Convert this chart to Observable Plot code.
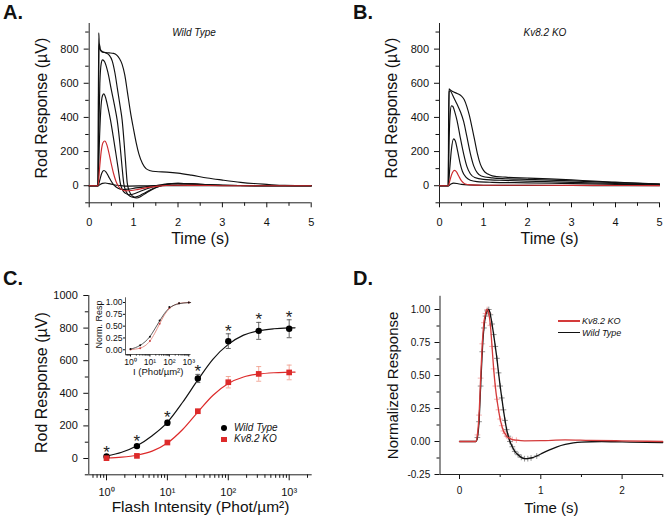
<!DOCTYPE html>
<html><head><meta charset="utf-8">
<script src="https://cdn.jsdelivr.net/npm/d3@7"></script>
<script src="https://cdn.jsdelivr.net/npm/@observablehq/plot@0.6"></script>
<style>
body{margin:0;background:#fff;}
#wrap{position:relative;width:666px;height:521px;overflow:hidden;font-family:"Liberation Sans",Arial,sans-serif;color:#111;}
.pn{position:absolute;}
.pl{position:absolute;font-weight:bold;font-size:20px;line-height:20px;}
.it{position:absolute;font-style:italic;font-size:10px;line-height:12px;white-space:nowrap;}
</style></head>
<body><div id="wrap">
<div class="pn" id="pA" style="left:0;top:0"></div>
<div class="pn" id="pB" style="left:333px;top:0"></div>
<div class="pn" id="pC" style="left:0;top:260px"></div>
<div class="pn" id="pD" style="left:333px;top:260px"></div>
<div class="pn" id="pI" style="left:60px;top:280px"></div>
<div class="pl" style="left:3px;top:1.5px">A.</div>
<div class="pl" style="left:353px;top:1.5px">B.</div>
<div class="pl" style="left:3px;top:268px">C.</div>
<div class="pl" style="left:353px;top:268px">D.</div>
<div class="it" style="left:144px;width:100px;text-align:center;top:27px">Wild Type</div>
<div class="it" style="left:495px;width:100px;text-align:center;top:27px">Kv8.2 KO</div>
<div style="position:absolute;left:221px;top:425.3px;width:6px;height:6px;border-radius:50%;background:#000"></div>
<div class="it" style="left:234px;top:422.3px">Wild Type</div>
<div style="position:absolute;left:221.2px;top:436.5px;width:5.6px;height:5.6px;background:#dd2a2a"></div>
<div class="it" style="left:234px;top:433.3px">Kv8.2 KO</div>
<div style="position:absolute;left:558px;top:320.4px;width:22px;height:1.3px;background:#d43a3a"></div>
<div class="it" style="left:582px;top:315px;font-size:9px">Kv8.2 KO</div>
<div style="position:absolute;left:558px;top:332px;width:22px;height:1.3px;background:#111"></div>
<div class="it" style="left:582px;top:326.7px;font-size:9px">Wild Type</div>
</div>
<script>
// ---------- Panel A: Wild Type rod responses (time s, µV) ----------
const wtA1 = [[0,0],[0.2,0],[0.24,6],[0.3,14],[0.36,16],[0.45,12],[0.55,6],[0.7,1],[0.9,-2],[1.2,-1],[1.6,1],[2.2,1],[3,0],[5,0]];
const wtA2 = [[0,0],[0.2,0],[0.24,35],[0.28,72],[0.33,89],[0.38,80],[0.44,52],[0.5,25],[0.57,0],[0.65,-15],[0.75,-22],[0.88,-20],[1.05,-13],[1.3,-5],[1.6,2],[2.0,4],[2.6,2],[3.5,0],[5,0]];
const wtA3red = [[0,0],[0.2,0],[0.23,90],[0.27,200],[0.31,252],[0.35,262],[0.4,238],[0.45,185],[0.5,125],[0.55,70],[0.6,28],[0.65,0],[0.72,-20],[0.82,-30],[0.95,-28],[1.1,-21],[1.3,-11],[1.55,-2],[1.9,3],[2.4,2],[3.2,0],[5,0]];
const wtA4 = [[0,0],[0.2,0],[0.225,220],[0.26,440],[0.3,528],[0.33,538],[0.37,515],[0.42,460],[0.48,384],[0.54,290],[0.6,190],[0.65,105],[0.7,15],[0.75,-25],[0.82,-45],[0.9,-53],[0.98,-50],[1.1,-38],[1.3,-18],[1.55,2],[1.85,12],[2.3,9],[3.0,3],[4,0],[5,0]];
const wtA5 = [[0,0],[0.2,0],[0.215,300],[0.24,600],[0.27,715],[0.3,737],[0.35,725],[0.42,665],[0.5,560],[0.57,470],[0.63,384],[0.69,250],[0.74,110],[0.78,10],[0.84,-38],[0.92,-62],[1.0,-68],[1.1,-62],[1.25,-42],[1.45,-15],[1.7,6],[2.0,14],[2.5,8],[3.0,3],[4,0],[5,0]];
const wtA6 = [[0,0],[0.2,0],[0.21,500],[0.22,800],[0.23,830],[0.25,800],[0.3,785],[0.38,778],[0.45,765],[0.52,730],[0.58,660],[0.64,560],[0.7,460],[0.742,384],[0.79,240],[0.83,100],[0.855,20],[0.9,-30],[0.98,-62],[1.07,-72],[1.17,-62],[1.3,-40],[1.5,-12],[1.75,8],[2.0,14],[2.5,8],[3.0,3],[4,0],[5,0]];
const wtA7 = [[0,0],[0.2,0],[0.205,400],[0.215,895],[0.225,840],[0.24,800],[0.28,785],[0.35,780],[0.45,778],[0.55,775],[0.62,765],[0.68,745],[0.74,712],[0.8,650],[0.86,550],[0.93,430],[1.0,330],[1.06,250],[1.12,185],[1.2,130],[1.28,100],[1.38,88],[1.5,83],[1.75,80],[2.0,74],[2.3,62],[2.66,45],[3.0,33],[3.41,20],[3.7,13],[4.0,8],[4.4,2],[5,0]];

// ---------- Panel B: Kv8.2 KO rod responses ----------
const koB1 = [[0,0],[0.2,0],[0.25,8],[0.32,15],[0.4,13],[0.5,8],[0.65,5],[1,3],[2,2],[3.5,1],[5,0]];
const koB2red = [[0,0],[0.2,0],[0.24,35],[0.29,75],[0.34,90],[0.39,80],[0.44,55],[0.5,28],[0.57,12],[0.7,5],[1.0,3],[2,3],[3.5,2],[5,1]];
const koB3 = [[0,0],[0.2,0],[0.23,90],[0.27,210],[0.32,274],[0.36,262],[0.41,205],[0.47,130],[0.52,85],[0.6,50],[0.7,32],[0.85,24],[1.2,20],[2,17],[3,12],[4,8],[5,5]];
const koB4 = [[0,0],[0.2,0],[0.215,230],[0.24,410],[0.27,468],[0.3,465],[0.35,430],[0.4,380],[0.47,285],[0.55,185],[0.62,115],[0.7,70],[0.8,48],[1.0,37],[1.5,31],[2,27],[3,20],[4,13],[5,8]];
const koB5 = [[0,0],[0.2,0],[0.21,350],[0.22,550],[0.24,556],[0.3,530],[0.36,497],[0.42,465],[0.48,430],[0.55,375],[0.62,290],[0.7,190],[0.78,115],[0.86,75],[0.95,57],[1.2,46],[1.5,41],[2,37],[3,28],[4,18],[5,10]];
const koB6 = [[0,0],[0.2,0],[0.205,300],[0.215,568],[0.24,562],[0.3,552],[0.4,540],[0.5,525],[0.56,505],[0.62,465],[0.68,410],[0.74,340],[0.8,265],[0.86,190],[0.93,125],[1.0,90],[1.1,68],[1.2,58],[1.5,50],[2.0,45],[2.5,40],[3.0,34],[3.5,27],[4.0,21],[4.5,15],[5,10]];

// ---------- Panel C: intensity-response ----------
const intensities = [1, 3.16, 10, 31.6, 100, 316, 1000];
const wtResp = [12, 76, 219, 491, 720, 783, 796];
const wtErr  = [8, 10, 15, 25, 45, 52, 55];
const koResp = [2, 16, 98, 290, 468, 519, 528];
const koErr  = [4, 5, 8, 12, 35, 45, 45];
const fitX   = [1, 1.78, 3.16, 5.62, 10, 17.8, 31.6, 56.2, 100, 178, 316, 562, 1000, 1250];
const fitWT  = [15, 38, 78, 140, 222, 345, 482, 610, 700, 757, 784, 796, 801, 802];
const fitKO  = [3, 8, 20, 45, 95, 178, 285, 388, 460, 500, 518, 526, 529, 530];
// inset (normalized)
const normWT = [0.015, 0.095, 0.275, 0.617, 0.905, 0.984, 1.0];
const normKO = [0.005, 0.03, 0.186, 0.55, 0.886, 0.983, 1.0];
const inFitWT = [0.015, 0.045, 0.095, 0.17, 0.28, 0.44, 0.61, 0.77, 0.885, 0.945, 0.975, 0.99, 0.998, 1.0];
const inFitKO = [0.005, 0.015, 0.035, 0.085, 0.185, 0.35, 0.55, 0.74, 0.87, 0.945, 0.98, 0.995, 1.0, 1.0];

// ---------- Panel D: normalized responses (time s) ----------
const dWT = [[0,0],[0.2,0],[0.22,0.03],[0.24,0.15],[0.26,0.42],[0.28,0.68],[0.3,0.86],[0.32,0.95],[0.34,0.99],[0.36,1.0],[0.38,0.96],[0.4,0.89],[0.42,0.81],[0.44,0.72],[0.46,0.63],[0.48,0.52],[0.5,0.42],[0.52,0.33],[0.54,0.24],[0.56,0.16],[0.58,0.09],[0.6,0.04],[0.62,0.0],[0.65,-0.04],[0.68,-0.075],[0.72,-0.1],[0.76,-0.12],[0.8,-0.13],[0.84,-0.13],[0.88,-0.125],[0.95,-0.11],[1.0,-0.095],[1.1,-0.065],[1.2,-0.04],[1.3,-0.022],[1.4,-0.01],[1.5,-0.004],[1.75,0],[2.0,-0.003],[2.5,-0.008]];
const dKO = [[0,0],[0.2,0],[0.22,0.05],[0.24,0.2],[0.26,0.48],[0.28,0.74],[0.3,0.9],[0.32,0.97],[0.34,1.0],[0.36,0.97],[0.38,0.88],[0.4,0.72],[0.42,0.55],[0.44,0.42],[0.46,0.32],[0.48,0.24],[0.5,0.17],[0.52,0.12],[0.54,0.08],[0.56,0.06],[0.58,0.04],[0.6,0.03],[0.65,0.015],[0.7,0.01],[0.8,0.005],[1.0,0.006],[1.3,0.012],[1.6,0.008],[2.0,0.005],[2.5,0.0]];

// ---------- helpers ----------
const FONT = '"Liberation Sans", Arial, sans-serif';
const RED = "#cc2a2e";
const rows = (list) => list.flatMap(([id, pts]) => pts.map(([t, v]) => ({id, t, v})));
const blank = () => "";
const baseStyle = (fs) => ({fontFamily: FONT, fontSize: fs, background: "transparent", overflow: "visible", color: "#111"});
const capSym = {draw(ctx, size) { const w = Math.sqrt(size) / 2; ctx.moveTo(-w, 0); ctx.lineTo(w, 0); }};
const sup = {"1": "10\u2070", "10": "10\u00b9", "100": "10\u00b2", "1000": "10\u00b3"};
const logMinor = [];
for (const k of [0.1, 1, 10, 100, 1000]) for (let m = 2; m <= 9; m++) logMinor.push(m * k);
const yTitle = (s, dx, dy, fs) => Plot.text([s], {frameAnchor: "left", dx, dy, rotate: -90, fontSize: fs, textAnchor: "middle", lineAnchor: "middle"});
const xTitle = (s, dy, fs) => Plot.text([s], {frameAnchor: "bottom", dy, fontSize: fs, textAnchor: "middle", lineAnchor: "middle"});

function tracePanel(blacks, red, opts) {
  return Plot.plot({
    width: 333, height: 260,
    marginLeft: opts.ml, marginRight: opts.mr, marginTop: 23, marginBottom: 57.7,
    x: {domain: [0, 5]}, y: {domain: [-100, 950]},
    style: baseStyle("11px"),
    marks: [
      Plot.axisY({ticks: [0, 200, 400, 600, 800], tickSize: 5, tickPadding: 5.5, tickFormat: d => String(d), label: null}),
      Plot.axisY({ticks: [-100, 100, 300, 500, 700, 900], tickSize: 3.5, tickFormat: blank, label: null}),
      Plot.axisX({ticks: [0, 1, 2, 3, 4, 5], tickSize: 5, tickPadding: 10, tickFormat: d => String(d), label: null}),
      Plot.axisX({ticks: [0.5, 1.5, 2.5, 3.5, 4.5], tickSize: 3.5, tickFormat: blank, label: null}),
      Plot.ruleX([0], {stroke: "#222"}),
      Plot.ruleY([-100], {stroke: "#222"}),
      Plot.line(rows(blacks), {x: "t", y: "v", z: "id", stroke: "#111", strokeWidth: 1.15, curve: "monotone-x"}),
      Plot.line(rows([["red", red]]), {x: "t", y: "v", stroke: RED, strokeWidth: 1.15, curve: "monotone-x"}),
      yTitle("Rod Response (\u00b5V)", opts.ydx, -5, 16),
      xTitle("Time (s)", 36.4, 16)
    ]
  });
}

document.getElementById("pA").append(tracePanel(
  [["a1", wtA1], ["a2", wtA2], ["a4", wtA4], ["a5", wtA5], ["a6", wtA6], ["a7", wtA7]], wtA3red,
  {ml: 88.7, mr: 22.3, ydx: -47}));
document.getElementById("pB").append(tracePanel(
  [["b1", koB1], ["b3", koB3], ["b4", koB4], ["b5", koB5], ["b6", koB6]], koB2red,
  {ml: 106, mr: 7, ydx: -47.7}));

// ---------- Panel C ----------
const cWT = intensities.map((x, i) => ({x, v: wtResp[i], e: wtErr[i]}));
const cKO = intensities.map((x, i) => ({x, v: koResp[i], e: koErr[i]}));
const caps = (arr) => arr.flatMap(d => [{x: d.x, y: d.v - d.e}, {x: d.x, y: d.v + d.e}]);
const fitRows = (ys) => fitX.map((x, i) => ({x, y: ys[i]}));
const RED_C = "#dd2a2a", RED_E = "#f0a392";

document.getElementById("pC").append(Plot.plot({
  width: 333, height: 261,
  marginLeft: 88.3, marginRight: 21.3, marginTop: 35, marginBottom: 46.7,
  x: {type: "log", domain: [0.512, 2388]}, y: {domain: [-100, 1000]},
  style: baseStyle("11px"),
  marks: [
    Plot.axisY({ticks: [0, 200, 400, 600, 800, 1000], tickSize: 5, tickPadding: 6, tickFormat: d => String(d), label: null}),
    Plot.axisY({ticks: [-100, 100, 300, 500, 700, 900], tickSize: 3.5, tickFormat: blank, label: null}),
    Plot.axisX({ticks: [1, 10, 100, 1000], tickSize: 6, tickPadding: 7.5, tickFormat: d => sup[String(d)], label: null}),
    Plot.axisX({ticks: logMinor.filter(d => d > 0.512 && d < 2388), tickSize: 3.5, tickFormat: blank, label: null}),
    Plot.ruleX([0.512], {stroke: "#222"}),
    Plot.ruleY([-100], {stroke: "#222"}),
    Plot.line(fitRows(fitWT), {x: "x", y: "y", stroke: "#111", strokeWidth: 1.2, curve: "monotone-x"}),
    Plot.line(fitRows(fitKO), {x: "x", y: "y", stroke: RED_C, strokeWidth: 1.2, curve: "monotone-x"}),
    Plot.ruleX(cWT, {x: "x", y1: d => d.v - d.e, y2: d => d.v + d.e, stroke: "#555", strokeWidth: 0.9}),
    Plot.dot(caps(cWT), {x: "x", y: "y", symbol: capSym, r: 2.8, fill: "none", stroke: "#555", strokeWidth: 0.9}),
    Plot.ruleX(cKO, {x: "x", y1: d => d.v - d.e, y2: d => d.v + d.e, stroke: RED_E, strokeWidth: 0.9}),
    Plot.dot(caps(cKO), {x: "x", y: "y", symbol: capSym, r: 2.8, fill: "none", stroke: RED_E, strokeWidth: 0.9}),
    Plot.dot(cWT, {x: "x", y: "v", r: 3.2, fill: "#000"}),
    Plot.dot(cKO, {x: "x", y: "v", symbol: "square", r: 3.2, fill: RED_C}),
    Plot.text(cWT, {x: "x", y: d => d.v + d.e, text: () => "*", dy: -2.5, fontSize: 17, fill: "#222"}),
    yTitle("Rod Response (\u00b5V)", -46.6, -2.5, 16),
    xTitle("Flash Intensity (Phot/\u00b5m\u00b2)", 32.4, 15.5)
  ]
}));

// ---------- Inset ----------
const iWT = intensities.map((x, i) => ({x, y: normWT[i]}));
const iKO = intensities.map((x, i) => ({x, y: normKO[i]}));
document.getElementById("pI").append(Plot.plot({
  width: 150, height: 100,
  marginLeft: 65, marginRight: 19.5, marginTop: 17.3, marginBottom: 26,
  x: {type: "log", domain: [0.553, 1300]}, y: {domain: [-0.1, 1.1]},
  style: baseStyle("8.6px"),
  marks: [
    Plot.axisY({ticks: [0, 0.25, 0.5, 0.75, 1], tickSize: 2, tickPadding: 1, tickFormat: d => d.toFixed(2), label: null}),
    Plot.axisX({ticks: [1, 10, 100, 1000], tickSize: 2.5, tickPadding: 1.5, tickFormat: d => sup[String(d)], label: null}),
    Plot.axisX({ticks: logMinor.filter(d => d > 0.553 && d < 1300), tickSize: 1.5, tickFormat: blank, label: null}),
    Plot.ruleX([0.553], {stroke: "#333", strokeWidth: 0.8}),
    Plot.ruleY([-0.1], {stroke: "#333", strokeWidth: 0.8}),
    Plot.line(fitRows(inFitKO), {x: "x", y: "y", stroke: "#e0857a", strokeWidth: 0.9, curve: "monotone-x"}),
    Plot.line(fitRows(inFitWT), {x: "x", y: "y", stroke: "#333", strokeWidth: 0.8, curve: "monotone-x"}),
    Plot.dot(iKO, {x: "x", y: "y", r: 1, fill: "#c44"}),
    Plot.dot(iWT, {x: "x", y: "y", r: 1, fill: "#111"}),
    yTitle("Norm. Resp", -26.7, -1.6, 9),
    xTitle("I (Phot/\u00b5m\u00b2)", 17.7, 9.5)
  ]
}));

// ---------- Panel D ----------
const dRowsWT = dWT.map(([t, v]) => ({t, v}));
const dRowsKO = dKO.map(([t, v]) => ({t, v}));
const RED_D = "#d43a3a";
document.getElementById("pD").append(Plot.plot({
  width: 333, height: 261,
  marginLeft: 106.5, marginRight: 3.75, marginTop: 35.8, marginBottom: 47,
  x: {domain: [-0.24, 2.5]}, y: {domain: [-0.25, 1.1]},
  style: baseStyle("10px"),
  marks: [
    Plot.axisY({ticks: [-0.25, 0, 0.25, 0.5, 0.75, 1], tickSize: 5, tickPadding: 4.8, tickFormat: d => d.toFixed(2), label: null}),
    Plot.axisY({ticks: [-0.125, 0.125, 0.375, 0.625, 0.875], tickSize: 3, tickFormat: blank, label: null}),
    Plot.axisX({ticks: [0, 1, 2], tickSize: 5, tickPadding: 7, tickFormat: d => String(d), label: null}),
    Plot.axisX({ticks: [0.5, 1.5, 2.5], tickSize: 3, tickFormat: blank, label: null}),
    Plot.ruleX([-0.24], {stroke: "#222"}),
    Plot.ruleY([-0.25], {stroke: "#222"}),
    Plot.dot(dRowsKO.filter(d => d.t > 0.2 && d.t < 0.75), {x: "t", y: "v", symbol: "plus", r: 2, stroke: "#f0a0a0", strokeWidth: 0.8}),
    Plot.dot(dRowsWT.filter(d => d.t > 0.2 && d.t < 1.0), {x: "t", y: "v", symbol: "plus", r: 2, stroke: "#777", strokeWidth: 0.8}),
    Plot.line(dRowsWT, {x: "t", y: "v", stroke: "#111", strokeWidth: 1.3, curve: "monotone-x"}),
    Plot.line(dRowsKO, {x: "t", y: "v", stroke: RED_D, strokeWidth: 1.3, curve: "monotone-x"}),
    yTitle("Normalized Response", -46.5, 0, 15),
    xTitle("Time (s)", 34, 15)
  ]
}));
</script>
</body></html>
